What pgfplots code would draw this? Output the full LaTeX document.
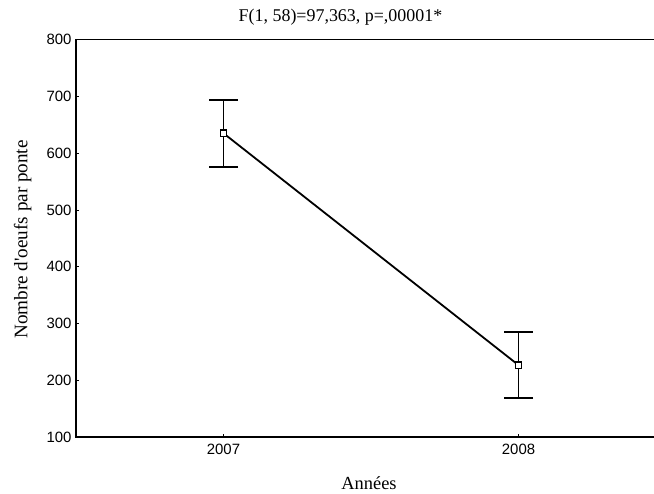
\documentclass[border=0pt]{standalone}
\usepackage{fontspec}
\setmainfont{Liberation Serif}
\newfontfamily\arial{Liberation Sans}
\usepackage{pgfplots}
\pgfplotsset{compat=1.18}
\begin{document}
\begin{tikzpicture}
\useasboundingbox (-76bp,-56.7bp) rectangle (578bp,437.3bp);
\begin{axis}[
  scale only axis,
  width=590bp, height=397.8bp,
  xmin=2006.5, xmax=2008.5,
  ymin=100, ymax=800,
  xtick={2007,2008},
  ytick={100,200,300,400,500,600,700,800},
  xtick pos=bottom, ytick pos=left,
  tick align=inside,
  major tick length=3bp,
  axis line style={line width=1.8bp, black},
  tick style={line width=0.8bp, black},
  /pgf/number format/assume math mode=true,
  /pgf/number format/1000 sep={},
  ticklabel style={font=\arial\fontsize{15}{17}\selectfont},
  xticklabel style={yshift=-3bp},
  yticklabel style={xshift=-1bp},
]
% vertical error-bar segments (mean - error, mean + error)
\addplot[black, line width=1.8bp, no marks] coordinates {(2007,576) (2007,694)};
\addplot[black, line width=1.8bp, no marks] coordinates {(2008,168.5) (2008,285.5)};
\addplot[black, line width=1.8bp, mark=square*, mark size=3.2bp,
  mark options={fill=white, line width=1.4bp},
  error bars/.cd, y dir=both, y explicit,
  error bar style={line width=1.8bp, black, solid},
  error mark options={rotate=90, line width=1.8bp, black, mark size=14.5bp}]
  coordinates {
    (2007,635) +- (0,59)
    (2008,227) +- (0,58.5)
  };
\end{axis}
\node[anchor=base, font=\fontsize{18}{20}\selectfont] at (264.5bp,415.3bp) {F(1, 58)=97,363, p=,00001*};
\node[anchor=base, font=\fontsize{18.5}{20}\selectfont] at (293bp,-51.7bp) {Années};
\node[anchor=base, rotate=90, font=\fontsize{19.2}{21}\selectfont] at (-48.5bp,197.9bp) {Nombre d\textquotesingle oeufs par ponte};
\end{tikzpicture}
\end{document}
